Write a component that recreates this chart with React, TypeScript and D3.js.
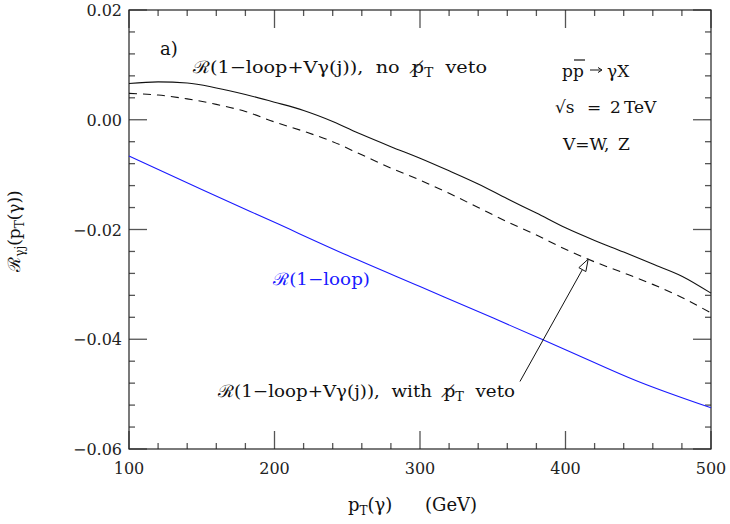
import React from "react";
import * as d3 from "d3";

const ptGrid = [100, 120, 140, 160, 180, 200, 220, 240, 260, 280, 300, 320, 340, 360, 380, 400, 420, 440, 460, 480, 500];
const noVeto = [0.0066, 0.0069, 0.0067, 0.0058, 0.0046, 0.0032, 0.0017, -0.0003, -0.0027, -0.0049, -0.0070, -0.0093, -0.0117, -0.0144, -0.0170, -0.0197, -0.0220, -0.0241, -0.0263, -0.0285, -0.0316];
const withVeto = [0.0048, 0.0045, 0.0038, 0.0028, 0.0015, -0.0004, -0.0021, -0.0040, -0.0064, -0.0088, -0.0110, -0.0134, -0.0160, -0.0186, -0.0210, -0.0236, -0.0259, -0.0279, -0.0300, -0.0324, -0.0352];
const ptOneLoop = [100, 150, 200, 250, 300, 350, 400, 450, 500];
const oneLoop = [-0.0066, -0.0127, -0.0187, -0.0247, -0.0304, -0.0361, -0.0419, -0.0477, -0.0525];

const xTicksMajor = [100, 200, 300, 400, 500];
const yTicksMajor = [0.02, 0.0, -0.02, -0.04, -0.06];
const arrowFrom = [368.7, -0.0477];
const arrowTo = [415.6, -0.0254];

const W = 730, H = 524;
const L = 129, R = 711, T = 10, B = 449;
const FONT = "'DejaVu Serif', 'Liberation Serif', serif";
const TICK = "#555";
const SP2 = "\u00A0\u00A0";

export default function App() {
  const x = d3.scaleLinear().domain([100, 500]).range([L, R]);
  const y = d3.scaleLinear().domain([-0.06, 0.02]).range([B, T]);
  const line = d3.line<[number, number]>().x(d => x(d[0])).y(d => y(d[1])).curve(d3.curveMonotoneX);
  const solidD = line(ptGrid.map((p, i) => [p, noVeto[i]]) as [number, number][]) || "";
  const dashD = line(ptGrid.map((p, i) => [p, withVeto[i]]) as [number, number][]) || "";
  const blueD = line(ptOneLoop.map((p, i) => [p, oneLoop[i]]) as [number, number][]) || "";

  const xMinor = d3.range(100, 501, 20);
  const yMinor = d3.range(-0.06, 0.0201, 0.004);

  const ax = x(arrowFrom[0]), ay = y(arrowFrom[1]);
  const bx = x(arrowTo[0]), by = y(arrowTo[1]);
  const ang = Math.atan2(by - ay, bx - ax);
  const hl = 12, hw = 4;
  const baseX = bx - hl * Math.cos(ang), baseY = by - hl * Math.sin(ang);
  const px = -Math.sin(ang), py = Math.cos(ang);
  const head = `M${bx},${by} L${baseX + hw * px},${baseY + hw * py} L${baseX - hw * px},${baseY - hw * py} Z`;

  const fmtY = (v: number) => (Math.abs(v) < 1e-9 ? "0.00" : (v < 0 ? "\u2212" : "") + Math.abs(v).toFixed(2));
  const LA = "spacingAndGlyphs";

  return (
    <svg width={W} height={H} style={{ position: "absolute", left: 0, top: 0, background: "#fff" }} fontFamily={FONT}>
      <rect x={0} y={0} width={W} height={H} fill="#fff" />
      {xMinor.map(v => {
        const major = xTicksMajor.some(m => Math.abs(m - v) < 1e-6);
        const len = major ? 18 : 6;
        return (
          <g key={"xt" + v} stroke={TICK} strokeWidth={1.3}>
            <line x1={x(v)} x2={x(v)} y1={B} y2={B - len} />
            <line x1={x(v)} x2={x(v)} y1={T} y2={T + len} />
          </g>
        );
      })}
      {yMinor.map((v, i) => {
        const major = yTicksMajor.some(m => Math.abs(m - v) < 1e-6);
        const len = major ? 18 : 6;
        return (
          <g key={"yt" + i} stroke={TICK} strokeWidth={1.3}>
            <line x1={L} x2={L + len} y1={y(v)} y2={y(v)} />
            <line x1={R} x2={R - len} y1={y(v)} y2={y(v)} />
          </g>
        );
      })}
      <rect x={L} y={T} width={R - L} height={B - T} fill="none" stroke="#222" strokeWidth={1.2} />

      {yTicksMajor.map(v => (
        <text key={"yl" + v} x={L - 7} y={y(v) + 6} textAnchor="end" fontSize={16} fill="#222">{fmtY(v)}</text>
      ))}
      {xTicksMajor.map(v => (
        <text key={"xl" + v} x={x(v)} y={B + 25} textAnchor="middle" fontSize={16} fill="#222">{v}</text>
      ))}

      <path d={solidD} fill="none" stroke="#111" strokeWidth={1.1} />
      <path d={dashD} fill="none" stroke="#111" strokeWidth={1.1} strokeDasharray="8,6" />
      <path d={blueD} fill="none" stroke="#1a1aff" strokeWidth={1.1} />

      <line x1={ax} y1={ay} x2={baseX} y2={baseY} stroke="#111" strokeWidth={1} />
      <path d={head} fill="#fff" stroke="#111" strokeWidth={1} />

      <text x={160} y={55} fontSize={18} fill="#111">a)</text>
      <text x={193} y={73} fontSize={17} fill="#111" textLength={294} lengthAdjust={LA}>{"ℛ(1−loop+Vγ(j))," + SP2 + "no" + SP2 + "p\u0338"}<tspan fontSize={12} dy={4}>T</tspan><tspan dy={-4}>{SP2 + "veto"}</tspan></text>
      <text x={218} y={397} fontSize={17} fill="#111" textLength={297} lengthAdjust={LA}>{"ℛ(1−loop+Vγ(j))," + SP2 + "with" + SP2 + "p\u0338"}<tspan fontSize={12} dy={4}>T</tspan><tspan dy={-4}>{SP2 + "veto"}</tspan></text>
      <text x={273} y={285} fontSize={17} fill="#1a1aff" textLength={97} lengthAdjust={LA}>ℛ(1−loop)</text>

      <g fill="#111" fontSize={17}>
        <text x={562} y={77}>pp</text>
        <line x1={574} x2={585} y1={60} y2={60} stroke="#111" strokeWidth={1.2} />
        <line x1={590} x2={601} y1={70} y2={70} stroke="#111" strokeWidth={1} />
        <path d="M598,67.5 L602,70 L598,72.5" fill="none" stroke="#111" strokeWidth={1} />
        <text x={607} y={77}>γX</text>
        <text x={555} y={113}>√s</text>
        <text x={587} y={113}>=</text>
        <text x={610} y={113}>2</text>
        <text x={624} y={113}>TeV</text>
        <text x={563} y={150}>V=W,</text>
        <text x={618} y={150}>Z</text>
      </g>

      <text x={348} y={511} fontSize={18} fill="#111">p<tspan fontSize={12} dy={4}>T</tspan><tspan dy={-4}>(γ)</tspan></text>
      <text x={425} y={511} fontSize={18} fill="#111">(GeV)</text>
      <text transform="translate(20,231) rotate(-90)" textAnchor="middle" fontSize={17} fill="#111">ℛ<tspan fontSize={12} dy={4}>γj</tspan><tspan dy={-4}>(p</tspan><tspan fontSize={12} dy={4}>T</tspan><tspan dy={-4}>(γ))</tspan></text>
    </svg>
  );
}
